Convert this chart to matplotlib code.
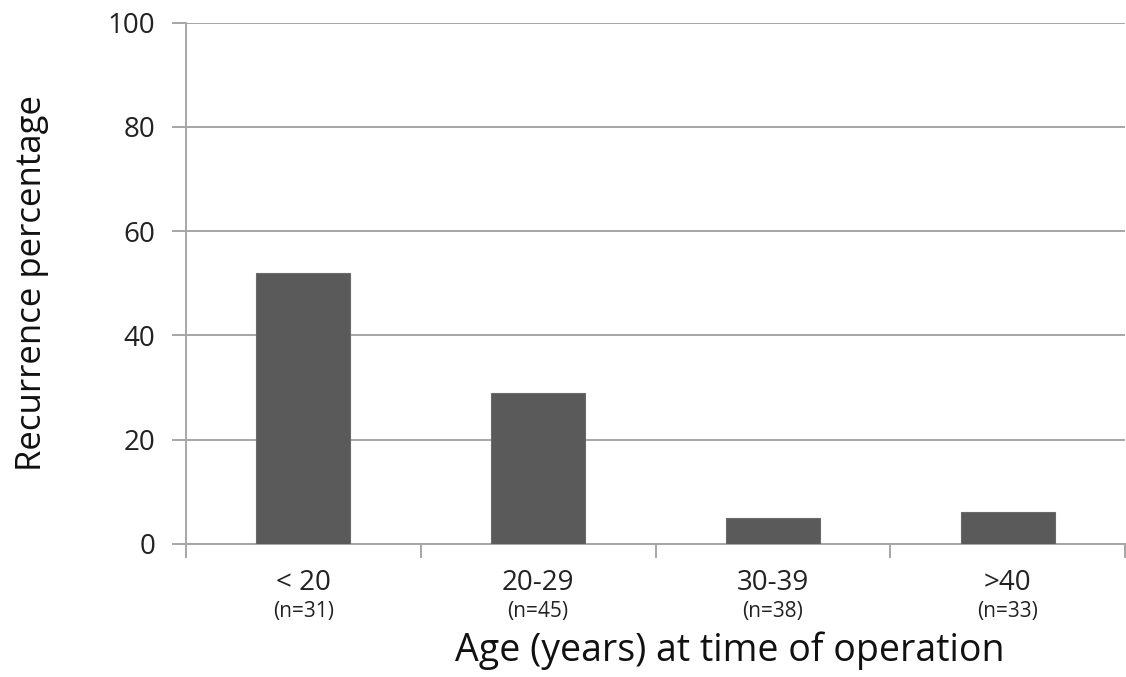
import matplotlib
matplotlib.use("Agg")
import matplotlib.pyplot as plt
import matplotlib.transforms as mtransforms

categories = ["< 20", "20-29", "30-39", ">40"]
counts = ["(n=31)", "(n=45)", "(n=38)", "(n=33)"]
recurrence = [52, 29, 5, 6]
yticks = [0, 20, 40, 60, 80, 100]

plt.rcParams['font.family'] = ['Open Sans', 'DejaVu Sans']

fig = plt.figure(figsize=(11.26, 6.77), dpi=100)
ax = fig.add_axes([186/1126, 1-543.7/677, (1125-186)/1126, (543.7-22.7)/677])

xpos = list(range(len(categories)))
ax.bar(xpos, recurrence, width=0.40, color="#5a5a5a", edgecolor="#6a6a6a", linewidth=0.8, zorder=3)

ax.set_xlim(-0.5, len(categories) - 0.5)
ax.set_ylim(0, 100)
ax.set_yticks(yticks)
ax.set_yticklabels([str(v) for v in yticks], fontsize=20, color="#222222")
ax.yaxis.grid(True, color="#a6a6a6", linewidth=1.4, zorder=0)
ax.tick_params(axis='y', length=10, width=1.4, color="#a6a6a6", pad=12)

bounds = [i - 0.5 for i in range(len(categories) + 1)]
ax.set_xticks(bounds)
ax.set_xticklabels([])
ax.tick_params(axis='x', length=10, width=1.4, color="#a6a6a6")

for s in ['top', 'right']:
    ax.spines[s].set_visible(False)
for s in ['left', 'bottom']:
    ax.spines[s].set_color("#a6a6a6")
    ax.spines[s].set_linewidth(1.4)

trans = mtransforms.blended_transform_factory(ax.transData, fig.transFigure)
for x, c, n in zip(xpos, categories, counts):
    ax.text(x, 1 - 583/677, c, transform=trans, ha='center', va='center', fontsize=20, color="#222222")
    ax.text(x, 1 - 611/677, n, transform=trans, ha='center', va='center', fontsize=15, color="#222222")

fig.text(730/1126, 1 - 651/677, "Age (years) at time of operation", ha='center', va='center', fontsize=27, color="#111111")
fig.text(32/1126, 1 - 283/677, "Recurrence percentage", ha='center', va='center', rotation=90, fontsize=25, color="#111111")

fig.savefig("out.png", dpi=100)
